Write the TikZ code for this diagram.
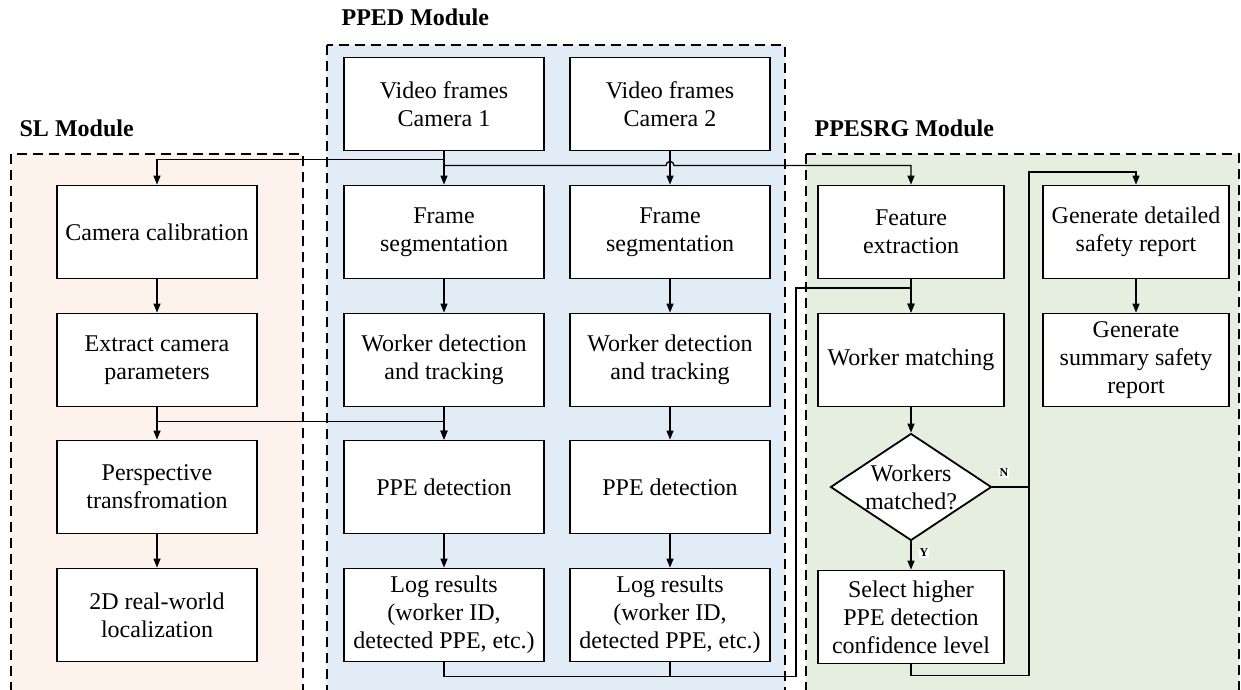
\documentclass[tikz,border=0pt]{standalone}
\usepackage{fontspec}
\setmainfont{Liberation Serif}
\usetikzlibrary{arrows.meta,shapes.geometric}
\definecolor{couleurfondsl}{HTML}{FDF3EC}
\definecolor{couleurfondpped}{HTML}{E2ECF6}
\definecolor{couleurfondsrg}{HTML}{E6EFDF}
\definecolor{couleurtext}{HTML}{000000}
\newcommand{\lienvert}[2]{\draw[->] (#1.south) -- (#2.north);}
\tikzset{
		basic/.style={draw, line width=1.8pt, fill=white, align=center, text=couleurtext, minimum height=93pt, inner sep=1pt},
		processus/.style={basic, minimum width=200pt},
		etroit/.style={basic, minimum width=186pt},
		decision/.style={diamond, draw, line width=1.8pt, fill=white, align=center, aspect=1.5, inner sep=-3pt, minimum width=161pt, minimum height=107pt},
		cadre/.style={draw, line width=1.8pt, dash pattern=on 10pt off 6pt},
		titre/.style={anchor=west, font=\bfseries},
		etiq/.style={fill=white, inner sep=1pt, font=\bfseries\fontsize{12}{12}\selectfont}
	}

\begin{document}
\begin{tikzpicture}[x=1pt, y=-1pt, line width=1.3pt, >={Triangle[length=9pt, width=7pt]}]
		\fontsize{24}{28} \selectfont
		\clip (0,0) rectangle (1241,690);
		% modules
		\draw[cadre, fill=couleurfondsl] (11,154) rectangle (303,710);
		\draw[cadre, fill=couleurfondpped] (327,45) rectangle (785,710);
		\draw[cadre, fill=couleurfondsrg] (806,154) rectangle (1239,710);
		\node[titre] (titresl) at (11,128) {SL Module};
		\node[titre] (titrepped) at (333,17) {PPED Module};
		\node[titre] (titresrg) at (806,128) {PPESRG Module};

		% SL
		\node[processus] (camcalib) at (157,232) {Camera calibration};
		\node[processus] (extrparm) at (157,360) {Extract camera\\parameters};
		\node[processus] (perstran) at (157,487) {Perspective\\transfromation};
		\node[processus] (loca2dre) at (157,615) {2D real-world\\localization};

		% PPED, camera 1
		\node[processus] (vidfram1) at (444,104) {Video frames\\Camera 1};
		\node[processus] (segfram1) at (444,232) {Frame\\segmentation};
		\node[processus] (detwork1) at (444,360) {Worker detection\\and tracking};
		\node[processus] (detcppe1) at (444,487) {PPE detection};
		\node[processus] (logresu1) at (444,615) {Log results\\(worker ID,\\detected PPE, etc.)};
		% PPED, camera 2
		\node[processus] (vidfram2) at (670,104) {Video frames\\Camera 2};
		\node[processus] (segfram2) at (670,232) {Frame\\segmentation};
		\node[processus] (detwork2) at (670,360) {Worker detection\\and tracking};
		\node[processus] (detcppe2) at (670,487) {PPE detection};
		\node[processus] (logresu2) at (670,615) {Log results\\(worker ID,\\detected PPE, etc.)};

		% PPESRG
		\node[etroit] (featextr) at (911,232) {Feature\\extraction};
		\node[etroit] (workmatc) at (911,360) {Worker matching};
		\node[decision] (matchdec) at (911,487) {Workers\\matched?};
		\node[etroit] (selconfl) at (911,617) {Select higher\\PPE detection\\confidence level};
		\node[etroit] (gendetai) at (1136,232) {Generate detailed\\safety report};
		\node[etroit] (gensumma) at (1136,360) {Generate\\summary safety\\report};

		\coordinate (retour) at (796,288);
		\coordinate (rapport) at (1029,172);

		% Liens
		\lienvert{camcalib}{extrparm}
		\lienvert{extrparm}{perstran}
		\lienvert{perstran}{loca2dre}

		\lienvert{vidfram1}{segfram1}
		\lienvert{segfram1}{detwork1}
		\lienvert{detwork1}{detcppe1}
		\lienvert{detcppe1}{logresu1}
		\lienvert{vidfram2}{segfram2}
		\lienvert{segfram2}{detwork2}
		\lienvert{detwork2}{detcppe2}
		\lienvert{detcppe2}{logresu2}

		\lienvert{featextr}{workmatc}
		\lienvert{workmatc}{matchdec}
		\lienvert{matchdec}{selconfl}
		\lienvert{gendetai}{gensumma}

		\draw[->] (vidfram1.south) -- ++(0,8) -| (camcalib.north);
		\draw[->] (vidfram1.south) -- ++(0,14) coordinate (saut) -- ([xshift=-4pt]vidfram2.south |- saut) arc[start angle=180, end angle=0, radius=4pt] -| (featextr.north);
		\draw[->] (extrparm.south) -- ++(0,14) -| (detcppe1.north);
		\draw[->] (logresu1.south) -- ++(0,14) -| (retour) -| (workmatc.north);
		\draw (logresu2.south) -- ++(0,14);
		\draw[->] (matchdec.east) -| (rapport) -| (gendetai.north);
		\draw (selconfl.south) -- ++(0,11) -| (rapport);

		\node[etiq] (etiqn) at (1004,473) {N};
		\node[etiq] (etiqy) at (924,553) {Y};
	\end{tikzpicture}
\end{document}
